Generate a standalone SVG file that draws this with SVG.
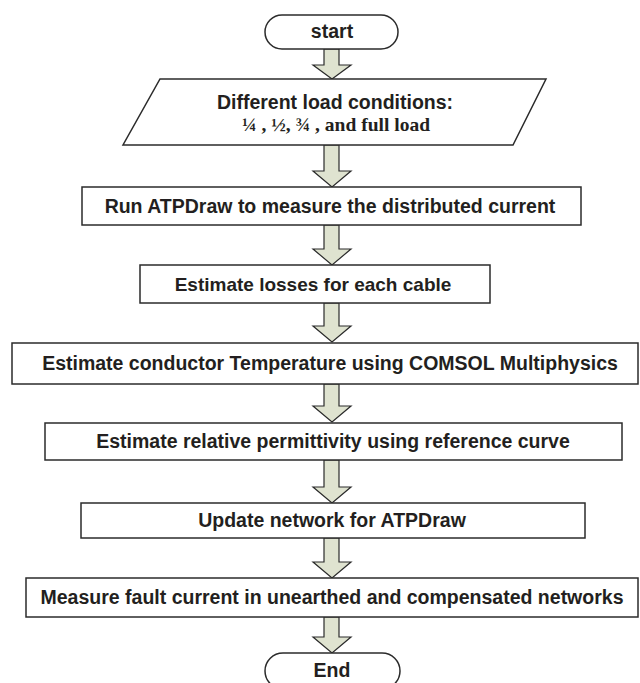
<svg xmlns="http://www.w3.org/2000/svg" width="640" height="683" viewBox="0 0 640 683">
<style>
.box{fill:#fff;stroke:#2b2b2b;stroke-width:1.5}
.arr{fill:#dfe3d0;stroke:#2b2b2b;stroke-width:1.2;stroke-linejoin:miter}
.t{font-family:"Liberation Sans",Arial,sans-serif;font-weight:bold;font-size:19.5px;fill:#231f20;text-anchor:middle}
.s{font-family:"Liberation Serif","Times New Roman",serif;font-weight:bold;font-size:19.5px;fill:#231f20;text-anchor:middle}
</style>
<rect width="640" height="683" fill="#fff"/>
<g id="connectors">
<polygon class="arr" points="324,49 339,49 339,65 351,65 332,79 313,65 324,65"/>
<polygon class="arr" points="324,145 339,145 339,171 351,171 332,187 313,171 324,171"/>
<polygon class="arr" points="324,225 339,225 339,249 351,249 332,265 313,249 324,249"/>
<polygon class="arr" points="324,303 339,303 339,326 351,326 332,342 313,326 324,326"/>
<polygon class="arr" points="324,384 339,384 339,406 351,406 332,422 313,406 324,406"/>
<polygon class="arr" points="324,460 339,460 339,487 351,487 332,503 313,487 324,487"/>
<polygon class="arr" points="324,538 339,538 339,562 351,562 332,578 313,562 324,562"/>
<polygon class="arr" points="324,617 339,617 339,637 351,637 332,653 313,637 324,637"/>
</g>
<g id="start">
<rect class="box" x="265" y="15" width="133" height="34" rx="17" ry="17"/>
<text class="t" x="332" y="38">start</text>
</g>
<g id="load">
<polygon class="box" points="160,79 546,79 513,145 123,145"/>
<text class="t" x="335" y="109">Different load conditions:</text>
<text class="s" x="336" y="131">¼ , ½, ¾ , and full load</text>
</g>
<g id="run">
<rect class="box" x="82" y="187" width="499" height="38"/>
<text class="t" x="330" y="213">Run ATPDraw to measure the distributed current</text>
</g>
<g id="losses">
<rect class="box" x="140" y="265" width="350" height="38"/>
<text class="t" x="313" y="291" style="font-size:19px">Estimate losses for each cable</text>
</g>
<g id="temp">
<rect class="box" x="12" y="343" width="626" height="41"/>
<text class="t" x="330" y="370">Estimate conductor Temperature using COMSOL Multiphysics</text>
</g>
<g id="perm">
<rect class="box" x="45" y="423" width="577" height="37"/>
<text class="t" x="333" y="448">Estimate relative permittivity using reference curve</text>
</g>
<g id="update">
<rect class="box" x="81" y="503" width="504" height="35"/>
<text class="t" x="332" y="527">Update network for ATPDraw</text>
</g>
<g id="fault">
<rect class="box" x="26" y="578" width="612" height="39"/>
<text class="t" x="332" y="604">Measure fault current in unearthed and compensated networks</text>
</g>
<g id="end">
<rect class="box" x="265" y="653" width="135" height="36" rx="18" ry="18"/>
<text class="t" x="332" y="677">End</text>
</g>
</svg>
